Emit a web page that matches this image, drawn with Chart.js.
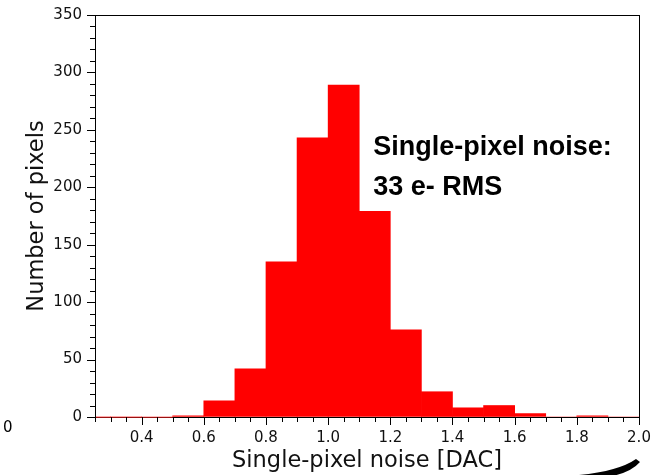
<!DOCTYPE html>
<html>
<head>
<meta charset="utf-8">
<script src="https://cdn.jsdelivr.net/npm/chart.js@4/dist/chart.umd.min.js"></script>
<style>
  html, body { margin: 0; padding: 0; background: #fff; }
  #wrap { width: 659px; height: 475px; position: relative; }
</style>
</head>
<body>
<div id="wrap"><canvas id="noiseChart"></canvas></div>
<script>
/* ── Histogram data: bin centres [DAC] and pixel counts ── */
const BIN_CENTRES = [0.25, 0.35, 0.45, 0.55, 0.65, 0.75, 0.85, 0.95, 1.05, 1.15,
                     1.25, 1.35, 1.45, 1.55, 1.65, 1.75, 1.85, 1.95];
const PIXEL_COUNTS = [0, 0, 0, 1, 14, 42, 135, 243, 289, 179,
                      76, 22, 8, 10, 3, 0, 1, 0];

const X_MAJOR_TICKS = [0.4, 0.6, 0.8, 1.0, 1.2, 1.4, 1.6, 1.8, 2.0];
const ANNOTATION_LINES = ['Single-pixel noise:', '33 e- RMS'];

const X_MIN = 0.25, X_MAX = 2.0;
const Y_MIN = 0, Y_MAX = 350;

const TICK_FONT = { family: 'DejaVu Sans', size: 15 };
const TITLE_FONT = { family: 'DejaVu Sans', size: 22.5 };

/* Draws frame, major/minor outward ticks and the loose bits of text */
const framePlugin = {
  id: 'frame',
  afterDraw(chart) {
    const ctx = chart.ctx;
    const a = chart.chartArea;
    const xs = chart.scales.x, ys = chart.scales.y;
    ctx.save();
    ctx.strokeStyle = '#000';
    ctx.lineWidth = 1;
    ctx.strokeRect(a.left + 0.5, a.top + 0.5, a.right - a.left, a.bottom - a.top);

    /* faint red line of the empty low bins along the baseline */
    ctx.strokeStyle = 'rgba(170,20,20,0.9)';
    ctx.beginPath();
    ctx.moveTo(a.left, Math.round(a.bottom) + 0.5);
    ctx.lineTo(xs.getPixelForValue(0.5), Math.round(a.bottom) + 0.5);
    ctx.stroke();

    ctx.strokeStyle = '#000';
    ctx.beginPath();
    /* y ticks: minor every 10, major every 50 */
    for (let v = Y_MIN; v <= Y_MAX; v += 10) {
      const y = Math.round(ys.getPixelForValue(v)) + 0.5;
      const len = (v % 50 === 0) ? 8 : 5;
      ctx.moveTo(a.left - len, y);
      ctx.lineTo(a.left, y);
    }
    /* x ticks: minor every 0.05, major every 0.2 */
    for (let i = 5; i <= 40; i++) {
      const v = i * 0.05;
      const x = Math.round(xs.getPixelForValue(v)) + 0.5;
      const len = (i % 4 === 0) ? 8 : 5;
      ctx.moveTo(x, a.bottom);
      ctx.lineTo(x, a.bottom + len);
    }
    ctx.stroke();

    /* annotation */
    ctx.fillStyle = '#000';
    ctx.font = 'bold 27px "Liberation Sans", Arial, sans-serif';
    ctx.textBaseline = 'alphabetic';
    ctx.textAlign = 'left';
    const ax = xs.getPixelForValue(1.145);
    ctx.fillText(ANNOTATION_LINES[0], ax, ys.getPixelForValue(228));
    ctx.fillText(ANNOTATION_LINES[1], ax, ys.getPixelForValue(193));

    /* stray "0" label at far left */
    ctx.font = '15px "DejaVu Sans"';
    ctx.textBaseline = 'middle';
    ctx.fillText('0', 3, a.bottom + 11);

    /* black swoosh at bottom right */
    const W = chart.width, H = chart.height;
    ctx.beginPath();
    ctx.moveTo(W - 80, H);
    ctx.quadraticCurveTo(W - 40, H - 4, W - 23, H - 16);
    ctx.lineTo(W - 19, H - 13);
    ctx.quadraticCurveTo(W - 32, H + 2, W - 70, H + 4);
    ctx.closePath();
    ctx.fill();
    ctx.restore();
  }
};

new Chart(document.getElementById('noiseChart'), {
  type: 'bar',
  data: {
    datasets: [{
      data: BIN_CENTRES.map((x, i) => ({ x: x, y: PIXEL_COUNTS[i] })),
      backgroundColor: '#ff0000',
      borderWidth: 0,
      barPercentage: 1.0,
      categoryPercentage: 1.0
    }]
  },
  options: {
    responsive: true,
    maintainAspectRatio: false,
    animation: false,
    layout: { padding: { top: 12, right: 20, left: 0, bottom: 0 } },
    plugins: {
      legend: { display: false },
      tooltip: { enabled: false }
    },
    scales: {
      x: {
        type: 'linear',
        offset: false,
        min: X_MIN,
        max: X_MAX,
        afterBuildTicks: s => { s.ticks = X_MAJOR_TICKS.map(v => ({ value: v })); },
        afterFit: s => { s.height = 58; s.paddingLeft = 0; s.paddingRight = 0; },
        grid: { display: true, offset: false, drawOnChartArea: false, color: 'rgba(0,0,0,0)', tickLength: 7 },
        border: { display: false },
        ticks: {
          font: TICK_FONT,
          color: '#111',
          padding: 5,
          maxRotation: 0,
          callback: v => Number(v).toFixed(1)
        },
        title: {
          display: true,
          text: 'Single-pixel noise [DAC]',
          font: TITLE_FONT,
          color: '#111',
          padding: { top: 0, bottom: 0 }
        }
      },
      y: {
        min: Y_MIN,
        max: Y_MAX,
        afterFit: s => { s.width = 95; },
        grid: { display: true, drawOnChartArea: false, color: 'rgba(0,0,0,0)', tickLength: 7 },
        border: { display: false },
        ticks: {
          stepSize: 50,
          font: TICK_FONT,
          color: '#111',
          padding: 6
        },
        title: {
          display: true,
          text: 'Number of pixels',
          font: TITLE_FONT,
          color: '#111',
          padding: { top: 24, bottom: 2 }
        }
      }
    }
  },
  plugins: [framePlugin]
});
</script>
</body>
</html>
